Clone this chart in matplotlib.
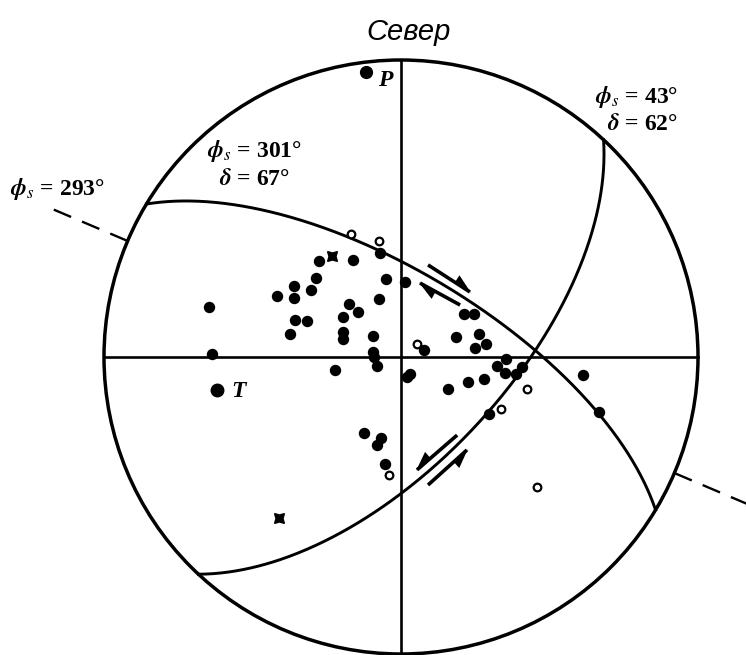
import numpy as np
import matplotlib.pyplot as plt
from matplotlib.patches import Circle, Polygon

plt.rcParams['mathtext.fontset'] = 'stix'

# nodal planes: strike, dip (degrees)
plane_strikes = [301, 43]
plane_dips = [67, 62]
slip_azimuth = 293

# first motions, net coordinates (primitive circle radius = 1, x east, y north)
comp_x = [-0.071, -0.276, -0.162, -0.286, -0.051, 0.013, -0.360, -0.418, -0.360, -0.303,
          -0.074, -0.175, -0.145, -0.646, -0.195, -0.357, -0.374, -0.316, -0.195, -0.195,
          -0.094, -0.636, -0.094, -0.091, -0.081, -0.222, 0.020, 0.030, 0.212, 0.246,
          0.185, 0.263, 0.286, 0.249, 0.077, 0.354, 0.323, 0.350, 0.387, 0.407,
          0.158, 0.226, 0.279, 0.613, 0.667, 0.296, -0.125, -0.067, -0.081, -0.054]
comp_y = [0.350, 0.323, 0.327, 0.266, 0.263, 0.253, 0.239, 0.205, 0.199, 0.226,
          0.195, 0.178, 0.152, 0.168, 0.135, 0.125, 0.077, 0.121, 0.084, 0.061,
          0.071, 0.010, 0.017, 0.000, -0.030, -0.044, -0.067, -0.057, 0.145, 0.145,
          0.067, 0.077, 0.044, 0.030, 0.024, -0.007, -0.030, -0.054, -0.057, -0.034,
          -0.108, -0.084, -0.074, -0.061, -0.185, -0.192, -0.256, -0.273, -0.296, -0.360]
dil_x = [-0.168, -0.074, 0.054, 0.424, 0.337, -0.040, 0.458]
dil_y = [0.414, 0.391, 0.044, -0.108, -0.175, -0.397, -0.438]
nodal_x = [-0.232, -0.411]
nodal_y = [0.340, -0.542]
p_axis = (-0.118, 0.960)
t_axis = (-0.620, -0.111)

# half-arrows showing slip sense: start, end, side of barb (+1 left, -1 right)
arrows = [((0.091, 0.310), (0.232, 0.219), 1),
          ((0.199, 0.175), (0.064, 0.249), 1),
          ((0.189, -0.263), (0.054, -0.380), -1),
          ((0.091, -0.431), (0.222, -0.313), -1)]


def great_circle(strike, dip, n=400):
    s = np.radians(strike)
    d = np.radians(dip)
    lam = np.linspace(0, np.pi, n)
    u = np.array([np.cos(s), np.sin(s), 0.0])
    v = np.array([np.cos(s + np.pi / 2) * np.cos(d), np.sin(s + np.pi / 2) * np.cos(d), np.sin(d)])
    pts = np.outer(np.cos(lam), u) + np.outer(np.sin(lam), v)
    plunge = np.arcsin(np.clip(pts[:, 2], -1, 1))
    trend = np.arctan2(pts[:, 1], pts[:, 0])
    r = np.sqrt(2) * np.sin((np.pi / 2 - plunge) / 2)
    return r * np.sin(trend), r * np.cos(trend)


def half_arrow(ax, start, end, side, head=0.06, width=0.028):
    start = np.array(start)
    end = np.array(end)
    ax.plot([start[0], end[0]], [start[1], end[1]], color='black', lw=2.6,
            solid_capstyle='butt')
    d = (end - start) / np.linalg.norm(end - start)
    nrm = np.array([-d[1], d[0]]) * side
    base = end - d * head
    tri = [end + d * 0.004, base, base + nrm * width]
    ax.add_patch(Polygon(tri, closed=True, color='black', lw=0))


fig = plt.figure(figsize=(7.46, 6.55), dpi=100)
ax = fig.add_axes([0, 0, 1, 1])
ax.set_xlim(-401 / 297, 345 / 297)
ax.set_ylim(-298 / 297, 357 / 297)
ax.set_aspect('equal')
ax.axis('off')

ax.add_patch(Circle((0, 0), 1, fill=False, lw=2.5, color='black'))
ax.plot([-1, 1], [0, 0], color='black', lw=1.9)
ax.plot([0, 0], [-1, 1], color='black', lw=1.9)

for st, dp in zip(plane_strikes, plane_dips):
    gx, gy = great_circle(st, dp)
    ax.plot(gx, gy, color='black', lw=2.1)

a = np.radians(slip_azimuth)
for sgn in (1, -1):
    ax.plot([sgn * np.sin(a), sgn * 1.27 * np.sin(a)],
            [sgn * np.cos(a), sgn * 1.27 * np.cos(a)],
            color='black', lw=1.7, dashes=(8, 5))

for st, en, sd in arrows:
    half_arrow(ax, st, en, sd)

ax.plot(comp_x, comp_y, 'o', color='black', ms=7.2, mec='black')
ax.plot(dil_x, dil_y, 'o', mfc='white', mec='black', ms=5.5, mew=1.6)
ax.plot(nodal_x, nodal_y, marker=(4, 1, 45), ls='none', color='black', ms=10)
ax.plot(*p_axis, 'o', color='black', ms=8.5)
ax.plot(*t_axis, 'o', color='black', ms=9)

lab = dict(family='Liberation Serif', fontsize=17, color='black', weight='bold')
ax.text(p_axis[0] + 0.04, p_axis[1] - 0.03, 'P', style='italic',
        va='center', ha='left', **lab)
ax.text(t_axis[0] + 0.05, t_axis[1] - 0.005, 'T', style='italic',
        va='center', ha='left', **lab)

ax.text(-1.315, 0.545, r'$\boldsymbol{\phi}_s$ = 293°', ha='left', va='baseline', **lab)
ax.text(-0.493, 0.673, r'$\boldsymbol{\phi}_s$ = 301°', ha='center', va='baseline', **lab)
ax.text(-0.493, 0.579, r'$\boldsymbol{\delta}$ = 67°', ha='center', va='baseline', **lab)
ax.text(0.933, 0.855, r'$\boldsymbol{\phi}_s$ = 43°', ha='right', va='baseline', **lab)
ax.text(0.933, 0.764, r'$\boldsymbol{\delta}$ = 62°', ha='right', va='baseline', **lab)

ax.text(0.024, 1.095, 'Север', family='Liberation Sans', style='italic',
        fontsize=21, ha='center', va='center', color='black')

fig.savefig('out.png', dpi=100)
